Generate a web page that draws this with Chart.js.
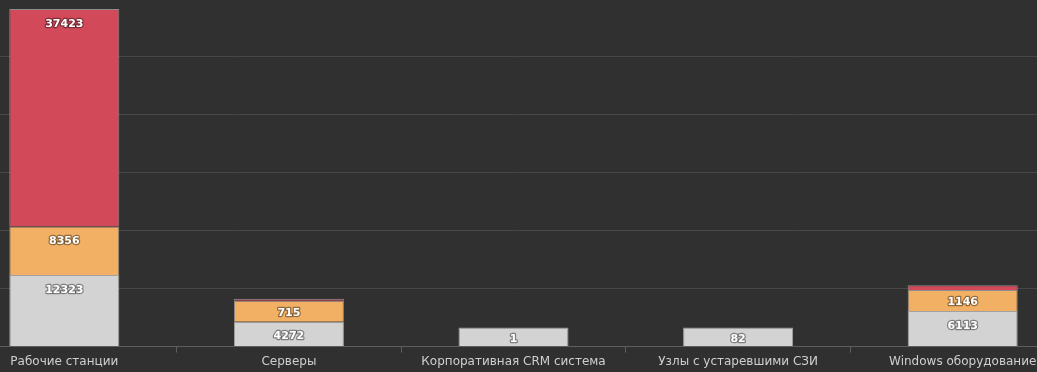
<!DOCTYPE html>
<html>
<head>
<meta charset="utf-8">
<script src="https://cdn.jsdelivr.net/npm/chart.js@4"></script>
<style>
   html, body { margin: 0; padding: 0; background: #303030; overflow: hidden; }
   .chart_div { position: absolute; left: -48px; top: -2px; width: 1123px; height: 373px; }
</style>
</head>
<body>
<div class="chart_div"><canvas id="myChart"></canvas></div>
<script>
const categories = ['Рабочие станции', 'Серверы', 'Корпоративная CRM система', 'Узлы с устаревшими СЗИ', 'Windows оборудование'];
const grayValues = [12323, 4272, 1, 82, 6113];
const orangeValues = [8356, 715, null, null, 1146];
const redValues = [37423, 350, null, null, 850];
const yTicks = [0, 10000, 20000, 30000, 40000, 50000, 60000];

// value labels drawn near the top of each segment
const valueLabels = {
   id: 'valueLabels',
   afterDatasetsDraw(chart) {
      const ctx = chart.ctx;
      ctx.save();
      ctx.font = 'bold 11px "DejaVu Sans", Verdana, sans-serif';
      ctx.textAlign = 'center';
      ctx.textBaseline = 'middle';
      ctx.lineJoin = 'round';
      chart.data.datasets.forEach((ds, i) => {
         chart.getDatasetMeta(i).data.forEach((bar, j) => {
            const v = ds.data[j];
            if (!v) return;
            const h = Math.abs(bar.base - bar.y);
            if (h < 12) return;
            const y = Math.min(bar.y + 15, (bar.y + bar.base) / 2 + 2);
            ctx.lineWidth = 2.5;
            ctx.strokeStyle = 'rgba(0,0,0,0.4)';
            ctx.strokeText(String(v), bar.x, y);
            ctx.fillStyle = '#ffffff';
            ctx.fillText(String(v), bar.x, y);
         });
      });
      ctx.restore();
   },
};

const ctx = document.getElementById('myChart').getContext('2d');
new Chart(ctx, {
   type: 'bar',
   data: {
      labels: categories,
      datasets: [
         {
            data: grayValues,
            backgroundColor: '#d3d3d3',
            borderColor: 'rgba(255,255,255,0.55)',
            borderWidth: 1,
            minBarLength: 19,
         },
         {
            data: orangeValues,
            backgroundColor: '#f2b064',
            borderColor: 'rgba(255,255,255,0.45)',
            borderWidth: 1,
            minBarLength: 21,
         },
         {
            data: redValues,
            backgroundColor: '#d24a5a',
            borderColor: 'rgba(255,255,255,0.45)',
            borderWidth: 1,
         },
      ],
   },
   options: {
      responsive: true,
      maintainAspectRatio: false,
      animation: false,
      layout: { padding: 0 },
      plugins: {
         legend: { display: false },
         tooltip: { enabled: false },
      },
      datasets: {
         bar: { categoryPercentage: 1, barPercentage: 0.49 },
      },
      scales: {
         x: {
            stacked: true,
            grid: {
               drawOnChartArea: false,
               drawTicks: true,
               tickLength: 6,
               color: '#5e5e5e',
            },
            border: { display: true, color: '#5e5e5e', width: 1 },
            ticks: {
               color: '#cfcfcf',
               padding: 2,
               maxRotation: 0,
               autoSkip: false,
               font: { family: '"DejaVu Sans", Verdana, sans-serif', size: 12 },
            },
         },
         y: {
            stacked: true,
            min: 0,
            max: 60000,
            afterBuildTicks: (axis) => {
               axis.ticks = yTicks.map((v) => ({ value: v }));
            },
            grid: { color: '#474747', drawTicks: false },
            border: { display: false },
            ticks: { display: false },
         },
      },
   },
   plugins: [valueLabels],
});
</script>
</body>
</html>
